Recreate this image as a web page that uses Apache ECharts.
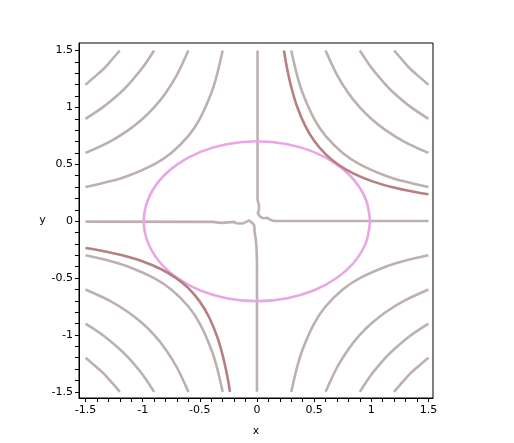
<!DOCTYPE html>
<html>
<head>
<meta charset="utf-8">
<script src="https://cdn.jsdelivr.net/npm/echarts@6/dist/echarts.min.js"></script>
<style>
  html, body { margin: 0; padding: 0; background: #fff; }
  #chart { width: 514px; height: 443px; }
</style>
</head>
<body>
<div id="chart"></div>
<script>
// contour levels (xy = c), first-quadrant shapes
const level045 = [[0.3,1.5],[0.35,1.286],[0.4,1.125],[0.5,0.9],[0.6,0.75],[0.75,0.6],[0.9,0.5],[1.125,0.4],[1.286,0.35],[1.5,0.3]]
const level090 = [[0.6,1.5],[0.7,1.286],[0.8,1.125],[0.9,1.0],[1.0,0.9],[1.125,0.8],[1.286,0.7],[1.5,0.6]]
const level135 = [[0.9,1.5],[1.0,1.35],[1.125,1.2],[1.2,1.125],[1.35,1.0],[1.5,0.9]]
const level180 = [[1.2,1.5],[1.286,1.4],[1.34,1.34],[1.4,1.286],[1.5,1.2]]
// tangent level, drawn in red
const tangent = [[0.236,1.5],[0.26,1.36],[0.3,1.179],[0.35,1.01],[0.42,0.842],[0.5,0.707],[0.6,0.589],[0.707,0.5],[0.842,0.42],[1.01,0.35],[1.179,0.3],[1.36,0.26],[1.5,0.236]]
// zero contour, with the wobble near the origin
const zeroUpper = [[0.005,1.5],[0.005,0.187],[0.017,0.143],[0.017,0.099],[0.007,0.069],[0.029,0.038],[0.059,0.025],[0.09,0.031],[0.108,0.016],[0.147,0.002],[1.5,0.002]]
const zeroLower = [[-1.5,-0.004],[-0.391,-0.006],[-0.374,-0.015],[-0.312,-0.015],[-0.295,-0.004],[-0.199,-0.006],[-0.181,-0.018],[-0.129,-0.021],[-0.067,0.007],[-0.041,-0.015],[-0.024,-0.037],[-0.021,-0.094],[-0.012,-0.147],[-0.004,-0.235],[0,-0.358],[0,-1.5]]
// constraint ellipse
const ellipse = [[0.99,0],[0.956,0.182],[0.857,0.352],[0.7,0.497],[0.495,0.609],[0.256,0.679],[0,0.703],[-0.256,0.679],[-0.495,0.609],[-0.7,0.497],[-0.857,0.352],[-0.956,0.182],[-0.99,0],[-0.956,-0.182],[-0.857,-0.352],[-0.7,-0.497],[-0.495,-0.609],[-0.256,-0.679],[0,-0.703],[0.256,-0.679],[0.495,-0.609],[0.7,-0.497],[0.857,-0.352],[0.956,-0.182],[0.99,0]]

const labelVals = [-1.5, -1, -0.5, 0, 0.5, 1, 1.5]
const tickVals = [-1.5,-1.4,-1.3,-1.2,-1.1,-1,-0.9,-0.8,-0.7,-0.6,-0.5,-0.4,-0.3,-0.2,-0.1,0,0.1,0.2,0.3,0.4,0.5,0.6,0.7,0.8,0.9,1,1.1,1.2,1.3,1.4,1.5]

const gray = '#bdb0b0'
const red = '#b58080'
const pink = '#e8a6e8'

function mirror (pts, sx, sy) {
  return pts.map(p => [p[0] * sx, p[1] * sy])
}

function line (data, color) {
  return {
    type: 'line',
    data: data,
    smooth: 0.3,
    showSymbol: false,
    silent: true,
    lineStyle: { color: color, width: 2.6 }
  }
}

let series = []
;[level045, level090, level135, level180].forEach(lv => {
  series.push(line(lv, gray))
  series.push(line(mirror(lv, -1, 1), gray))
  series.push(line(mirror(lv, 1, -1), gray))
  series.push(line(mirror(lv, -1, -1), gray))
})
series.push({ ...line(zeroUpper, gray), smooth: false })
series.push({ ...line(zeroLower, gray), smooth: false })
series.push(line(ellipse, pink))
series.push(line(tangent, red))
series.push(line(mirror(tangent, -1, -1), red))

const axisFont = { color: '#000', fontSize: 11, fontFamily: 'DejaVu Sans' }

let chart = echarts.init(document.getElementById('chart'))
chart.setOption({
  animation: false,
  grid: {
    left: 79, top: 43, width: 354, height: 355,
    show: true, borderColor: '#000', borderWidth: 1, backgroundColor: 'transparent'
  },
  xAxis: {
    type: 'value',
    min: -1.557, max: 1.54,
    name: 'x', nameLocation: 'middle', nameGap: 28,
    nameTextStyle: axisFont,
    axisLine: { show: true, onZero: false, lineStyle: { color: '#000', width: 1 } },
    axisTick: { show: true, customValues: tickVals, length: 4, lineStyle: { color: '#000' } },
    axisLabel: { ...axisFont, customValues: labelVals, margin: 7, formatter: v => String(v) },
    splitLine: { show: false }
  },
  yAxis: {
    type: 'value',
    min: -1.554, max: 1.566,
    name: 'y', nameLocation: 'middle', nameGap: 31, nameRotate: 0,
    nameTextStyle: axisFont,
    axisLine: { show: true, onZero: false, lineStyle: { color: '#000', width: 1 } },
    axisTick: { show: true, customValues: tickVals, length: 4, lineStyle: { color: '#000' } },
    axisLabel: { ...axisFont, customValues: labelVals, margin: 6, formatter: v => String(v) },
    splitLine: { show: false }
  },
  series: series
})
</script>
</body>
</html>
